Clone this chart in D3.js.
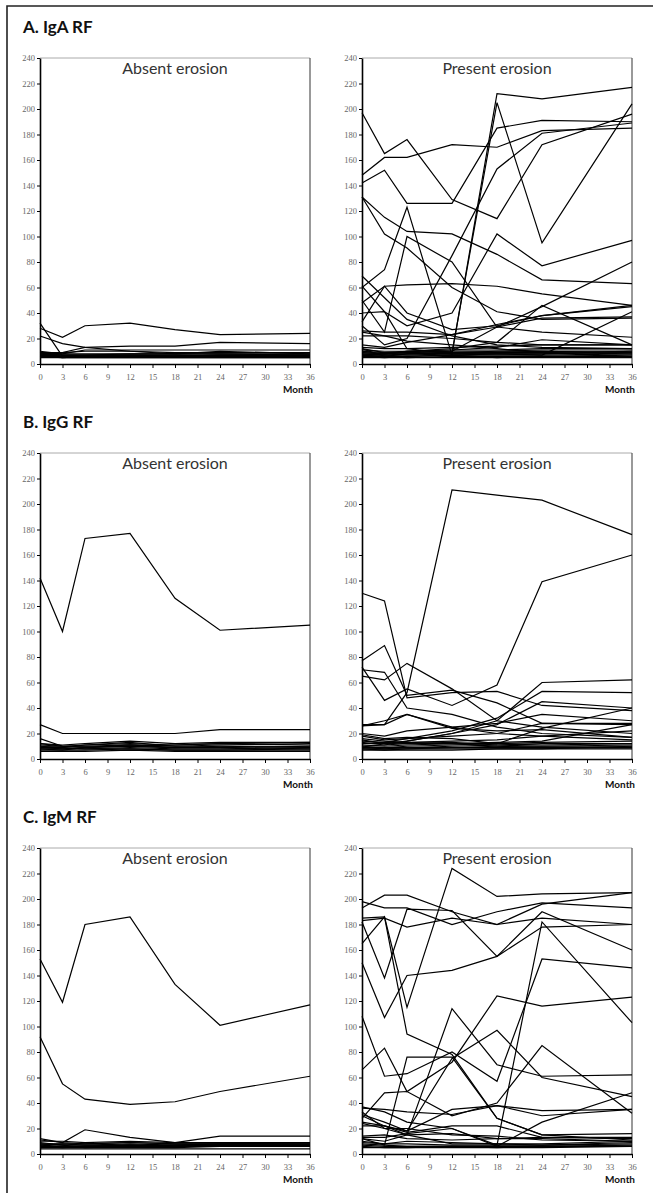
<!DOCTYPE html>
<html><head><meta charset="utf-8">
<script src="https://cdn.jsdelivr.net/npm/d3@7"></script>
<style>body{margin:0;background:#fff}</style></head>
<body><svg id="c" width="653" height="1193"></svg>
<script>
const months=[0,3,6,12,18,24,36];
const xTicks=d3.range(0,37,3);
const yTicks=d3.range(0,241,20);
const panelTitles=["A. IgA RF","B. IgG RF","C. IgM RF"];
const groupLabels=["Absent erosion","Present erosion"];
const axisLabel="Month";

const igaAbsent=[
[28,21,30,32,27,23,24],[32,6,6,6,6,6,6],[22,16,13,10,8,8,7],[8,9,13,14,14,17,16],
[9,8,11,11,11,11,11],[8,7,7,8,8,10,8],[9,7,7,7,7,7,7],[7,6,6,6,6,7,7],[6,5,5,5,5,5,5],
[10,8,8,8,8,8,8],[7,7,7,7,7,6,6],[6,6,6,6,6,6,6],[8,6,6,7,6,6,7],[5,5,5,5,5,5,5],
[9,9,10,10,9,9,9],[7,5,6,6,6,7,6]];
const igaPresent=[
[7,8,9,8,212,208,217],[10,8,10,9,205,95,204],[197,165,176,129,114,172,196],
[148,162,162,172,170,183,185],[142,152,126,126,185,191,190],[131,115,104,102,86,66,63],
[131,102,91,60,41,35,36],[30,15,20,85,153,181,189],[61,41,30,40,102,77,97],
[60,74,123,7,8,8,10],[48,61,62,63,61,55,46],[33,61,40,27,30,38,46],[69,52,35,22,15,13,12],
[50,25,100,80,29,36,37],[40,41,12,8,9,10,9],[26,25,25,23,29,25,21],[22,22,22,20,17,15,15],
[15,13,17,23,31,38,45],[8,8,10,12,17,46,15],[9,8,9,10,29,45,80],[7,7,8,8,8,7,41],
[12,9,10,11,13,19,15],[13,12,12,13,14,15,15],[11,10,10,11,11,12,12],[10,9,9,10,10,11,11],
[9,8,8,9,9,9,10],[8,7,7,8,8,8,9],[7,6,6,7,7,7,8],[6,6,5,6,6,6,7],[5,5,5,5,5,6,6],
[6,5,6,7,5,5,5],[12,6,8,9,10,10,9],[25,22,18,15,12,9,8]];
const iggAbsent=[
[142,100,173,177,126,101,105],[27,20,20,20,20,23,23],[16,10,10,11,9,10,10],
[12,11,12,14,12,13,13],[10,9,11,13,10,11,12],[9,8,9,10,9,9,10],[8,8,8,9,8,8,9],
[11,10,11,12,11,12,11],[7,7,7,8,7,7,8],[6,6,6,7,6,6,6],[9,9,8,8,7,7,7],
[8,7,9,11,10,10,9],[10,10,10,10,9,9,8],[12,10,9,10,11,12,13]];
const iggPresent=[
[26,27,52,211,207,203,176],[130,124,48,52,53,42,38],[72,46,55,42,58,139,160],
[77,89,50,54,44,28,28],[70,68,40,35,25,20,17],[65,62,75,55,30,25,20],[27,27,35,25,20,18,15],
[15,12,14,20,30,60,62],[12,13,16,22,32,53,52],[10,11,14,20,27,45,40],[20,18,22,25,28,35,30],
[26,30,35,24,22,23,17],[18,15,16,18,20,28,27],[14,13,12,12,13,14,27],[12,12,13,14,15,18,22],
[10,9,10,11,12,13,14],[9,9,9,10,11,12,12],[8,8,8,9,10,10,11],[13,11,12,13,11,10,10],
[16,14,13,12,10,9,9],[11,10,11,12,12,11,12],[9,8,9,9,9,9,9],[8,7,8,8,8,8,8],
[7,7,7,7,8,8,10],[19,16,17,16,12,24,40]];
const igmAbsent=[
[153,119,180,186,133,101,117],[92,55,43,39,41,49,61],[12,9,19,13,9,14,14],
[10,10,9,10,9,9,9],[8,8,8,9,8,8,8],[9,7,7,8,7,8,8],[7,6,6,7,6,7,7],[6,6,6,6,6,6,6],
[5,5,5,5,5,6,6],[8,7,5,6,7,7,7],[6,5,6,7,6,7,7],[4,4,4,4,4,4,4],[11,9,8,9,8,8,9],
[7,8,7,7,7,7,7]];
const igmPresent=[
[193,203,203,190,180,196,205],[198,193,193,180,190,197,193],[185,186,94,78,28,15,16],
[183,185,178,185,180,185,180],[165,186,115,224,202,204,205],[182,138,192,191,155,190,160],
[150,107,140,144,155,178,180],[108,61,63,80,57,153,146],[66,83,49,72,124,116,123],
[37,33,25,20,7,182,103],[33,20,15,114,70,61,62],[31,25,18,75,97,60,45],
[28,48,49,30,40,85,32],[25,22,17,22,22,13,12],[36,35,33,31,38,30,35],[22,22,18,35,38,34,35],
[13,13,16,20,6,25,48],[12,7,76,76,28,15,11],[30,22,15,8,8,7,8],[12,10,15,16,12,13,13],
[10,8,8,7,7,7,9],[8,7,6,6,6,6,7],[7,6,6,6,5,6,6],[6,5,5,5,5,5,6],[9,8,10,9,8,8,10],
[5,5,5,6,6,6,6],[14,15,12,11,12,12,10],[24,20,20,15,14,11,10]];

const panels=[[igaAbsent,igaPresent],[iggAbsent,iggPresent],[igmAbsent,igmPresent]];

const svg=d3.select("#c");
const sans="Lato, 'Open Sans', 'DejaVu Sans', sans-serif";
const serif="'Liberation Serif', 'DejaVu Serif', serif";
svg.append("path").attr("d","M7,1193V6H653").attr("fill","none").attr("stroke","#222").attr("stroke-width",1.6);
const plotX=[[40,310],[362,632]];

panels.forEach((pair,i)=>{
  const base=33+395*i;
  svg.append("text").attr("x",23).attr("y",base).text(panelTitles[i])
    .attr("font-family",sans).attr("font-weight","bold").attr("font-size",17).attr("fill","#111");
  const top=base+25, bottom=top+306;
  pair.forEach((series,j)=>{
    const x=d3.scaleLinear().domain([0,36]).range(plotX[j]);
    const y=d3.scaleLinear().domain([0,240]).range([bottom,top]);
    const g=svg.append("g");
    g.append("line").attr("x1",x(0)).attr("x2",x(36)).attr("y1",y(240)).attr("y2",y(240))
      .attr("stroke","#aaa").attr("stroke-width",1);
    g.append("line").attr("x1",x(36)).attr("x2",x(36)).attr("y1",y(240)).attr("y2",y(0))
      .attr("stroke","#555").attr("stroke-width",1.2);
    const line=d3.line().x((d,k)=>x(months[k])).y(d=>y(d));
    g.selectAll("path.s").data(series).join("path").attr("class","s").attr("d",line)
      .attr("fill","none").attr("stroke","#000").attr("stroke-width",1.2).attr("stroke-linejoin","miter");
    const ya=g.append("g").attr("transform",`translate(${x(0)},0)`)
      .call(d3.axisLeft(y).tickValues(yTicks).tickSize(3).tickSizeOuter(0).tickPadding(2));
    const xa=g.append("g").attr("transform",`translate(0,${y(0)})`)
      .call(d3.axisBottom(x).tickValues(xTicks).tickSize(4).tickSizeOuter(0).tickPadding(6));
    [ya,xa].forEach(a=>{
      a.select(".domain").attr("stroke","#000").attr("stroke-width",1.6);
      a.selectAll(".tick line").attr("stroke","#000").attr("stroke-width",1);
      a.selectAll(".tick text").attr("font-family",serif).attr("font-size",8.5).attr("fill","#666").attr("opacity",0.99);
    });
    g.append("text").attr("x",(x(0)+x(36))/2).attr("y",top+16).attr("text-anchor","middle")
      .text(groupLabels[j]).attr("font-family",sans).attr("font-size",16).attr("fill","#333");
    g.append("text").attr("x",x(36)+3).attr("y",bottom+29).attr("text-anchor","end")
      .text(axisLabel).attr("font-family",sans).attr("font-weight","bold").attr("font-size",10).attr("fill","#111");
  });
});
</script></body></html>
